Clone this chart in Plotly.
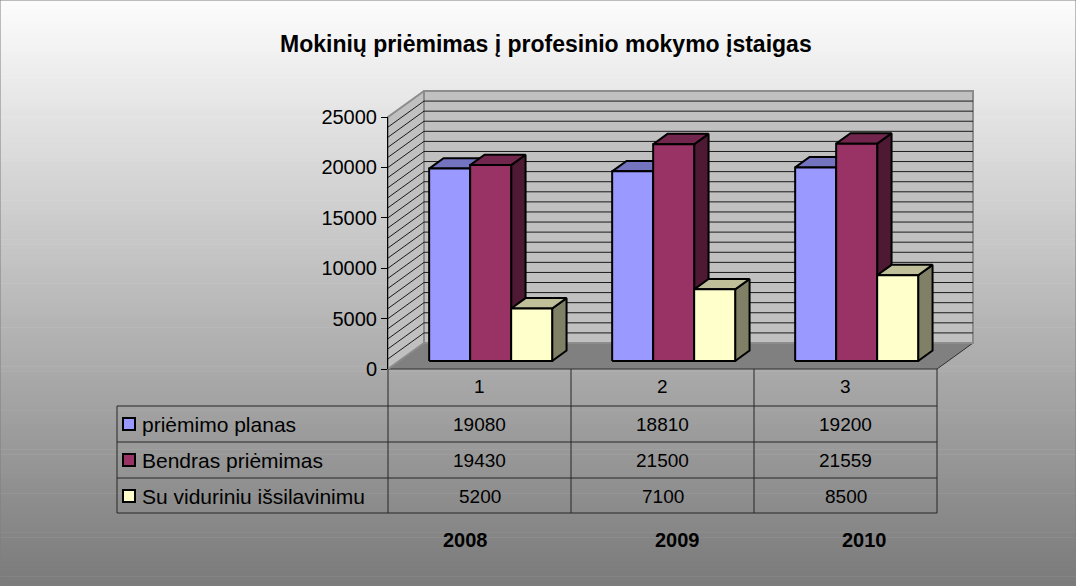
import plotly.graph_objects as go

# ---------------- data ----------------
categories = [1, 2, 3]
years = ["2008", "2009", "2010"]
series_names = ["priėmimo planas", "Bendras priėmimas", "Su viduriniu išsilavinimu"]
plan = [19080, 18810, 19200]
bendras = [19430, 21500, 21559]
vidurinis = [5200, 7100, 8500]
series_values = [plan, bendras, vidurinis]
y_ticks = [0, 5000, 10000, 15000, 20000, 25000]
title_text = "Mokinių priėmimas į profesinio mokymo įstaigas"

# colours per series: front, top, side
front_cols = ["#9999FF", "#993366", "#FFFFCC"]
top_cols = ["#7373BF", "#73264D", "#BFBF99"]
side_cols = ["#4D4D80", "#4D1933", "#808066"]

# ---------------- layout geometry ----------------
W, H = 1076, 586
X0PX = 388          # pixel of category 0.5 (front axis plane)
CW = 183            # px per category
Y0PX = 369          # pixel of value 0
YMAX = 25000
S = 252 / YMAX      # px per value unit
XL = 0.5 - X0PX / CW
XR = 0.5 + (W - X0PX) / CW
YB = -(H - Y0PX) / S
YT = Y0PX / S
DX = 36 / CW        # full depth offset (x, data units)
DY = 26 / S         # full depth offset (y, data units)
F0, F1 = 0.31, 0.71  # bar front/back depth fractions
BW = 41 / CW         # bar width in category units

FONT = "Arial, 'Liberation Sans', sans-serif"

def py(p):  # pixel y -> paper
    return 1 - p / H

def px(p):  # pixel x -> paper
    return p / W

fig = go.Figure()

def poly(xs, ys, fill, lc="black", lw=2):
    fig.add_trace(go.Scatter(x=xs + [xs[0]], y=ys + [ys[0]], mode="lines", fill="toself",
                             fillcolor=fill, line=dict(color=lc, width=lw),
                             hoverinfo="skip", showlegend=False))

xa, xb = 0.5, 3.5
# floor
poly([xa, xb, xb + DX, xa + DX], [0, 0, DY, DY], "#808080", lc="#303030", lw=1)
# back wall
poly([xa + DX, xb + DX, xb + DX, xa + DX], [DY, DY, YMAX + DY, YMAX + DY], "#C0C0C0", lc="#8C8C8C", lw=2)
# left wall
poly([xa, xa + DX, xa + DX, xa], [0, DY, YMAX + DY, YMAX], "#C0C0C0", lc="#8C8C8C", lw=2)

# grid lines every 1000
gx, gy = [], []
for v in range(1000, YMAX, 1000):
    gx += [xa, xa + DX, xb + DX, None]
    gy += [v, v + DY, v + DY, None]
fig.add_trace(go.Scatter(x=gx, y=gy, mode="lines", line=dict(color="#1a1a1a", width=1),
                         hoverinfo="skip", showlegend=False))

# bars
for ci, c in enumerate(categories):
    for si, vals in enumerate(series_values):
        v = vals[ci]
        x0 = c + (si - 1) * BW - BW / 2
        x1 = x0 + BW
        fx, fy = F0 * DX, F0 * DY
        bx, by = F1 * DX, F1 * DY
        poly([x1 + fx, x1 + bx, x1 + bx, x1 + fx], [fy, by, v + by, v + fy], side_cols[si])
        poly([x0 + fx, x1 + fx, x1 + bx, x0 + bx], [v + fy, v + fy, v + by, v + by], top_cols[si])
        poly([x0 + fx, x1 + fx, x1 + fx, x0 + fx], [fy, fy, v + fy, v + fy], front_cols[si])

# dummy trace for the value axis subplot
fig.add_trace(go.Scatter(x=[None], y=[None], xaxis="x2", yaxis="y2", showlegend=False, hoverinfo="skip"))

shapes = []
# gradient background
NB = 120
for i in range(NB):
    t = (i + 0.5) / NB
    g = int(round(253 - (253 - 122) * t))
    shapes.append(dict(type="rect", xref="paper", yref="paper", x0=0, x1=1,
                       y0=1 - i / NB, y1=1 - (i + 1) / NB - 0.001, layer="below",
                       line=dict(width=0), fillcolor=f"rgb({g},{g},{g})"))
# outer border
shapes.append(dict(type="rect", xref="paper", yref="paper", x0=0, x1=1, y0=0, y1=1,
                   line=dict(color="#7f7f7f", width=1)))

# table lines
LINE = dict(color="#262626", width=1)
row_lines = [406, 442, 478, 513]
for r in row_lines:
    shapes.append(dict(type="line", xref="paper", yref="paper", x0=px(117), x1=px(937),
                       y0=py(r), y1=py(r), line=LINE))
for xb_ in [0.5, 1.5, 2.5, 3.5]:
    shapes.append(dict(type="line", xref="x", yref="paper", x0=xb_, x1=xb_,
                       y0=py(Y0PX), y1=py(513), line=LINE))
shapes.append(dict(type="line", xref="paper", yref="paper", x0=px(117), x1=px(117),
                   y0=py(406), y1=py(513), line=LINE))

annotations = []
row_centers = [424, 460, 496]
for si, name in enumerate(series_names):
    yc = row_centers[si]
    shapes.append(dict(type="rect", xref="paper", yref="paper", x0=px(123), x1=px(135),
                       y0=py(yc - 6), y1=py(yc + 6), fillcolor=front_cols[si],
                       line=dict(color="black", width=2)))
    annotations.append(dict(x=px(140), y=py(yc), xref="paper", yref="paper", text=name,
                            showarrow=False, xanchor="left", yanchor="middle",
                            font=dict(family=FONT, size=21, color="black")))
    for ci, c in enumerate(categories):
        annotations.append(dict(x=c, y=py(yc), xref="x", yref="paper", text=str(series_values[si][ci]),
                                showarrow=False, xanchor="center", yanchor="middle",
                                font=dict(family=FONT, size=19, color="black")))

# category header labels
for c in categories:
    annotations.append(dict(x=c, y=py(386), xref="x", yref="paper", text=str(c),
                            showarrow=False, xanchor="center", yanchor="middle",
                            font=dict(family=FONT, size=19, color="black")))

# year labels
for yx, yr in zip([465, 677, 864], years):
    annotations.append(dict(x=px(yx), y=py(540), xref="paper", yref="paper", text=f"<b>{yr}</b>",
                            showarrow=False, xanchor="center", yanchor="middle",
                            font=dict(family=FONT, size=20, color="black")))

# title
annotations.append(dict(x=px(546), y=py(44), xref="paper", yref="paper", text=f"<b>{title_text}</b>",
                        showarrow=False, xanchor="center", yanchor="middle",
                        font=dict(family=FONT, size=23, color="black")))

fig.update_layout(
    width=W, height=H,
    margin=dict(l=0, r=0, t=0, b=0, pad=0, autoexpand=False),
    paper_bgcolor="white",
    plot_bgcolor="rgba(0,0,0,0)",
    showlegend=False,
    xaxis=dict(domain=[0, 1], range=[XL, XR], visible=False, fixedrange=True, automargin=False),
    yaxis=dict(domain=[0, 1], range=[YB, YT], visible=False, fixedrange=True, automargin=False),
    xaxis2=dict(domain=[px(X0PX), px(937)], range=[0.5, 3.5], anchor="y2", visible=False,
                fixedrange=True, automargin=False),
    yaxis2=dict(domain=[py(Y0PX), py(Y0PX - YMAX * S)], range=[0, YMAX], anchor="x2",
                tickvals=y_ticks, tickformat="d", ticks="outside", ticklen=6, tickcolor="black",
                tickwidth=1, showline=True, linecolor="black", linewidth=1, showgrid=False,
                zeroline=False, tickfont=dict(family=FONT, size=20, color="black"),
                fixedrange=True, automargin=False),
    shapes=shapes,
    annotations=annotations,
)

post = ("document.body.style.margin='0';document.body.style.padding='0';"
        "var d=document.getElementById('{plot_id}');"
        "d.style.position='fixed';d.style.left='0px';d.style.top='0px';")
fig.write_html("out.html", post_script=post, config={"displayModeBar": False})
